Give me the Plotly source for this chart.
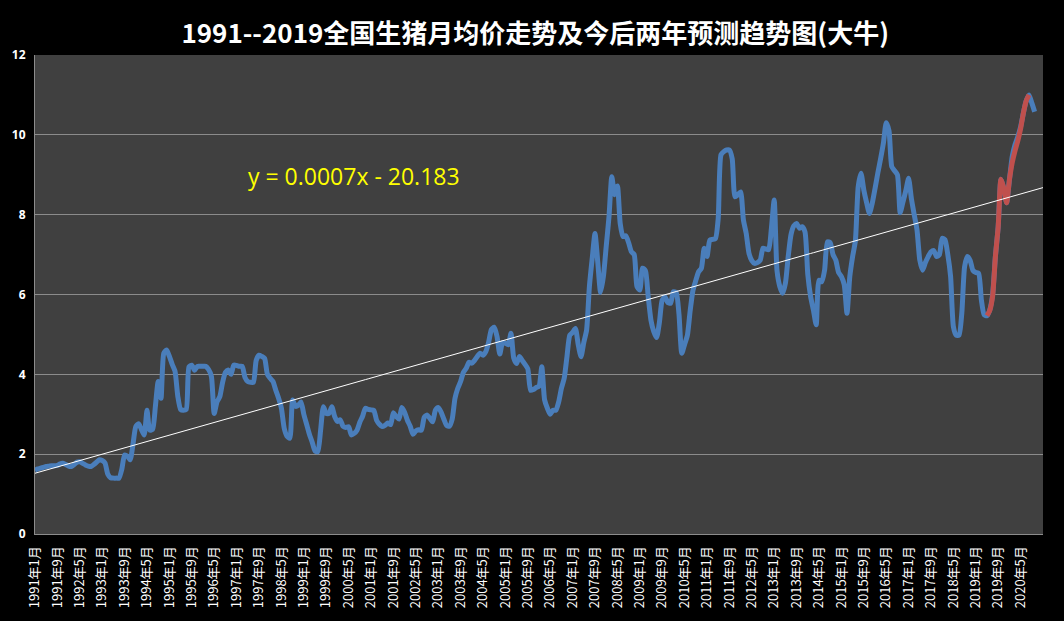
import pandas as pd
import plotly.graph_objects as go

# ---------------- data ----------------
start_month = "1991-01"

price_1991 = [1.60, 1.63, 1.65, 1.67, 1.69, 1.70, 1.71, 1.71, 1.72, 1.76, 1.77, 1.74]
price_1992 = [1.70, 1.69, 1.74, 1.80, 1.81, 1.77, 1.73, 1.70, 1.69, 1.74, 1.80, 1.86]
price_1993 = [1.84, 1.78, 1.50, 1.41, 1.40, 1.40, 1.40, 1.62, 1.98, 1.95, 1.86, 2.25]
price_1994 = [2.69, 2.76, 2.62, 2.48, 3.10, 2.60, 2.62, 3.20, 3.82, 3.40, 4.53, 4.61]
price_1995 = [4.45, 4.25, 4.08, 3.45, 3.12, 3.10, 3.12, 4.19, 4.23, 4.10, 4.20, 4.20]
price_1996 = [4.20, 4.20, 4.12, 3.95, 3.02, 3.31, 3.44, 3.80, 4.05, 4.11, 4.00, 4.23]
price_1997 = [4.22, 4.20, 4.20, 3.92, 3.82, 3.80, 3.80, 4.35, 4.48, 4.45, 4.40, 4.00]
price_1998 = [3.90, 3.82, 3.60, 3.40, 3.15, 2.65, 2.45, 2.40, 3.36, 3.20, 3.22, 3.31]
price_1999 = [3.00, 2.75, 2.50, 2.30, 2.08, 2.06, 2.60, 3.19, 3.02, 3.02, 3.19, 2.95]
price_2000 = [2.82, 2.86, 2.70, 2.67, 2.69, 2.48, 2.52, 2.60, 2.80, 2.95, 3.15, 3.12]
price_2001 = [3.11, 3.10, 2.85, 2.75, 2.69, 2.72, 2.78, 2.74, 3.04, 2.94, 2.88, 3.17]
price_2002 = [3.05, 2.85, 2.70, 2.50, 2.58, 2.61, 2.60, 2.92, 2.98, 2.90, 2.81, 3.10]
price_2003 = [3.17, 3.06, 2.88, 2.72, 2.70, 2.88, 3.40, 3.65, 3.82, 4.05, 4.15, 4.30]
price_2004 = [4.28, 4.35, 4.45, 4.53, 4.48, 4.57, 4.80, 5.12, 5.18, 4.95, 4.51, 4.80]
price_2005 = [4.78, 4.74, 5.03, 4.40, 4.27, 4.45, 4.35, 4.25, 4.14, 3.60, 3.62, 3.67]
price_2006 = [3.70, 4.19, 3.36, 3.15, 3.00, 3.10, 3.10, 3.30, 3.65, 3.90, 4.45, 4.98]
price_2007 = [5.05, 5.15, 4.75, 4.44, 4.80, 5.11, 6.20, 6.90, 7.53, 6.80, 6.05, 6.45]
price_2008 = [7.20, 7.95, 8.95, 8.50, 8.72, 7.78, 7.45, 7.47, 7.30, 7.07, 7.00, 6.20]
price_2009 = [6.11, 6.66, 6.60, 5.95, 5.35, 5.07, 4.92, 5.30, 5.86, 5.94, 5.80, 5.78]
price_2010 = [6.07, 6.05, 5.50, 4.53, 4.75, 4.98, 5.60, 6.11, 6.35, 6.57, 6.66, 7.16]
price_2011 = [6.95, 7.36, 7.38, 7.40, 7.90, 9.50, 9.58, 9.62, 9.62, 9.40, 8.45, 8.50]
price_2012 = [8.57, 7.87, 7.53, 7.03, 6.85, 6.78, 6.80, 6.86, 7.16, 7.14, 7.12, 7.66]
price_2013 = [8.37, 6.60, 6.20, 6.03, 6.28, 6.95, 7.50, 7.72, 7.78, 7.66, 7.70, 7.57]
price_2014 = [6.50, 5.95, 5.61, 5.24, 6.36, 6.32, 6.61, 7.32, 7.30, 7.00, 6.86, 6.55]
price_2015 = [6.45, 6.25, 5.53, 6.45, 6.95, 7.35, 8.70, 9.04, 8.62, 8.30, 8.03, 8.28]
price_2016 = [8.65, 9.04, 9.40, 9.79, 10.30, 10.10, 9.20, 9.10, 9.00, 8.05, 8.32, 8.60]
price_2017 = [8.91, 8.40, 8.00, 7.62, 6.86, 6.61, 6.80, 6.95, 7.07, 7.10, 6.95, 7.00]
price_2018 = [7.41, 7.37, 7.00, 6.45, 5.19, 4.98, 4.98, 5.53, 6.70, 6.95, 6.85, 6.60]
price_2019 = [6.55, 6.53, 5.86, 5.49, 5.47, 5.62, 6.00, 6.95, 7.70, 8.89, 8.66, 8.30]
price_2020 = [8.87, 9.45, 9.75, 9.95, 10.20, 10.55, 10.85, 11.00, 10.80, 10.58]

# forecast segment (red), starting 2019-05
forecast_start = "2019-05"
forecast = [5.47, 5.60, 5.95, 6.95, 7.70, 8.89, 8.66, 8.30, 8.87, 9.30,
            9.60, 9.85, 10.15, 10.55, 10.85, 11.00]

# linear trend shown on the chart (x = Excel date serial)
trend_slope = 0.000653
trend_intercept = -20.183
trend_label = "y = 0.0007x - 20.183"
axis_end_month = "2021-01"

tick_labels = [
    "1991年1月", "1991年9月", "1992年5月", "1993年1月", "1993年9月", "1994年5月",
    "1995年1月", "1995年9月", "1996年5月", "1997年1月", "1997年9月", "1998年5月",
    "1999年1月", "1999年9月", "2000年5月", "2001年1月", "2001年9月", "2002年5月",
    "2003年1月", "2003年9月", "2004年5月", "2005年1月", "2005年9月", "2006年5月",
    "2007年1月", "2007年9月", "2008年5月", "2009年1月", "2009年9月", "2010年5月",
    "2011年1月", "2011年9月", "2012年5月", "2013年1月", "2013年9月", "2014年5月",
    "2015年1月", "2015年9月", "2016年5月", "2017年1月", "2017年9月", "2018年5月",
    "2019年1月", "2019年9月", "2020年5月",
]
tick_step_months = 8

title_text = "1991--2019全国生猪月均价走势及今后两年预测趋势图(大牛)"

# ---------------- build ----------------
price = (price_1991 + price_1992 + price_1993 + price_1994 + price_1995 + price_1996 +
         price_1997 + price_1998 + price_1999 + price_2000 + price_2001 + price_2002 +
         price_2003 + price_2004 + price_2005 + price_2006 + price_2007 + price_2008 +
         price_2009 + price_2010 + price_2011 + price_2012 + price_2013 + price_2014 +
         price_2015 + price_2016 + price_2017 + price_2018 + price_2019 + price_2020)


def month_index(ym):
    p = pd.Period(ym, freq="M")
    p0 = pd.Period(start_month, freq="M")
    return (p - p0).n


x_price = list(range(len(price)))
f0 = month_index(forecast_start)
x_fore = list(range(f0, f0 + len(forecast)))
x_end = month_index(axis_end_month)

trend_dates = pd.date_range(start_month, periods=x_end + 1, freq="MS")
excel_serial = (trend_dates - pd.Timestamp("1899-12-30")).days
trend_y = [trend_slope * s + trend_intercept for s in excel_serial]
x_trend = list(range(x_end + 1))

fig = go.Figure()
fig.add_trace(go.Scatter(x=x_price, y=price, mode="lines",
                         line=dict(color="#4A7EBB", width=5, shape="spline", smoothing=0.6),
                         hoverinfo="skip", showlegend=False))
fig.add_trace(go.Scatter(x=x_fore, y=forecast, mode="lines",
                         line=dict(color="#C0504D", width=5, shape="spline", smoothing=0.6),
                         hoverinfo="skip", showlegend=False))
fig.add_trace(go.Scatter(x=x_trend, y=trend_y, mode="lines",
                         line=dict(color="#FFFFFF", width=1),
                         hoverinfo="skip", showlegend=False))

fig.update_layout(
    width=1064, height=621,
    margin=dict(l=33, r=21, t=55, b=87),
    paper_bgcolor="#000000",
    plot_bgcolor="#404040",
    title=dict(text=title_text, x=0.503, xanchor="center", y=1 - 34 / 621, yanchor="middle",
               yref="container",
               font=dict(family="Noto Sans CJK SC", size=26, color="#FFFFFF", weight="bold")),
    xaxis=dict(range=[0, x_end], tickmode="array",
               tickvals=list(range(0, tick_step_months * len(tick_labels), tick_step_months)),
               ticktext=tick_labels, tickangle=-90, ticklabelstandoff=6,
               tickfont=dict(family="Noto Sans CJK SC", size=13, color="#FFFFFF"),
               showgrid=False, zeroline=False, showline=True, linecolor="#8C8C8C",
               linewidth=1, ticks=""),
    yaxis=dict(range=[0, 12], dtick=2, tick0=0, ticklabelstandoff=6,
               tickfont=dict(family="Open Sans", size=12, color="#FFFFFF", weight="bold"),
               gridcolor="#8C8C8C", gridwidth=1, zeroline=False,
               showline=True, linecolor="#8C8C8C", linewidth=1, ticks="", ticklen=0),
    annotations=[dict(text=trend_label, xref="paper", yref="paper",
                      x=(244 - 33) / 1010, y=(534 - 176) / 479,
                      xanchor="left", yanchor="middle", showarrow=False,
                      font=dict(family="Open Sans", size=23, color="#FFFF00"))],
)

fig.write_html("out.html")
